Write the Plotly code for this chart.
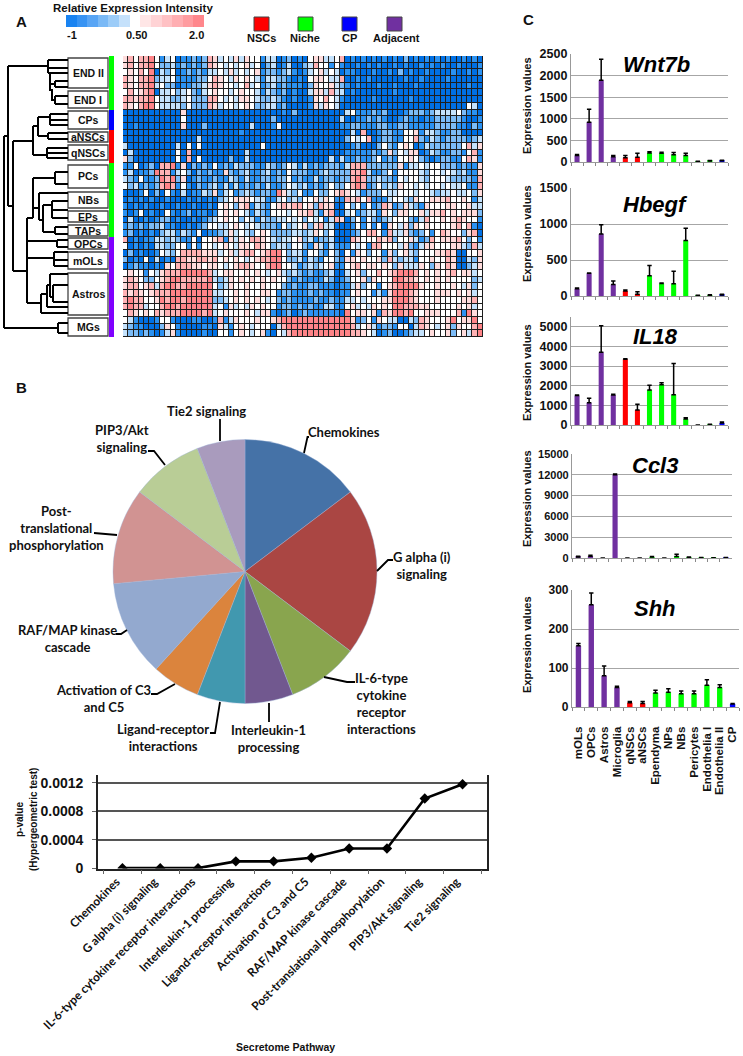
import plotly.graph_objects as go

W, H = 743, 1056
ARIAL = "Liberation Sans, Arial, sans-serif"
CAL = "Lato, Carlito, sans-serif"

# ---------- Panel A data ----------
heat_rows = [
"5646674134 0112126534 3535441330 1201045533 4601010101 0102010101 01001010",
"5646674223 1212126543 4345340230 1300236441 4100101010 0101001010 10010001",
"4546470324 0121213343 5343451221 2310134534 3011000100 1020100100 00100101",
"6546672334 1111224654 3545431332 2101045543 3600101000 0001001000 01000000",
"6546673422 0112235654 4346341231 2111025445 3210100010 0100010000 00000100",
"4645670334 2342134544 3454431321 2010035536 3301000000 0100000000 00000000",
"6656674332 2342226643 4355432232 1010015464 3100000100 0000100000 00000000",
"6546774333 3242226534 4345422331 2000015354 3000000000 0000000000 00000430",
"0000000000 0500000000 0000000000 1020000000 0034111212 0001222123 33342110",
"0000000000 0400000000 0000000020 0000000000 0300112121 0012110112 22221001",
"0010000000 0500020000 0000300014 0000000000 0112211122 1122111112 22211021",
"0000000000 0000000000 0010000000 0000000000 0003060012 2114451332 11220000",
"0000000000 0000300000 0000000000 0000000000 0024346012 2114462132 12222123",
"3000000000 3040400000 0000004000 0000000000 0001200024 2145401322 22224635",
"0300000000 4060000000 0003000000 0000000000 0011111212 5243550132 11221461",
"5200000000 4060400000 2003000000 0000000003 0311211241 2144542101 22114651",
"1140120667 1502121412 1322211321 2431312122 2136662222 2251334344 22212115",
"1301127661 3420212115 2123112312 1422211232 2226673112 4144443244 34323115",
"3214112767 2501211211 3213112212 2412113122 1226762232 2143443244 43222216",
"4231212676 1410212313 1312121311 2432312124 2246761242 3254434344 34334116",
"0001402041 0301132513 4123212217 5324114224 5654312224 3344434432 33433425",
"0101010010 0010101023 4555433113 4232445354 1165646111 3443254455 56445413",
"1010100100 1001001045 4256132145 6566452655 0042414126 5125321544 45544533",
"1014010041 0120110145 4543132144 4345563156 0034123315 4255445355 64545552",
"0300101220 1001012345 4424313223 3434243413 6502414212 3444213644 54565441",
"1212122311 0010124433 4543432221 4234525633 0001414140 5435254544 44564610",
"1201010233 1321401123 5343245422 2233235424 0001246641 6335212414 65442560",
"6010113323 2114044561 5354665432 3345231223 0006544465 6244531264 55564241",
"4010103322 4414144345 4355465423 3244215313 1114341664 4435213554 44553263",
"0201001432 4666655534 5356645677 4233144214 2041542441 5245324445 56500445",
"2010403010 6655665645 4543456677 4223132144 2155454452 6323314454 46500325",
"0121101054 6665545543 4566544677 4431232345 1145645545 4253335425 46500235",
"4544143566 6777776345 5445454345 3232121123 0034524464 5677764545 45645534",
"5654224567 7666667323 5454545454 4212111132 0124452544 4776654545 45444423",
"5664563677 6677777423 5445445444 2121122111 0113524414 5677775445 44543524",
"6565456667 7777777334 4545445541 2211121211 0114544131 5777654445 55454534",
"6766445767 7677777223 4545454342 1211112112 1133434445 5777654445 44445564",
"6766344677 6777777341 5343545441 2212121133 1145343545 4776665544 44454534",
"4654546566 6777767345 4445435510 1201211111 1074554516 5776744555 44461754",
"4310001441 0001100161 3544454456 7777777777 7775124154 3300326544 45745574",
"3211000254 1000011053 1454344403 6777777777 7776345312 2144036543 45254467",
"3221210135 1000010044 1454345104 3677777777 7776654301 2001233454 45245367",
]
heat_levels = ["#0070e4", "#2b92f2", "#7cbcf7", "#c4e2fc", "#ffffff", "#ffdcdc", "#ffb2b4", "#ff8488"]
scale_values = [-1, -0.75, -0.5, -0.25, 0, 0.25, 0.5, 0.75, 1, 1.25, 1.5, 1.75, 2]
scale_colors = ["#0a7cf0", "#2a8cf2", "#4c9ff4", "#72b4f6", "#96c8f8", "#c0dffb", "#ffffff",
                "#ffe4e4", "#ffd0d2", "#ffbcc0", "#ffa8ac", "#ff9498", "#ff7c82"]
cluster_names = ["END II", "END I", "CPs", "aNSCs", "qNSCs", "PCs", "NBs", "EPs", "TAPs", "OPCs", "mOLs", "Astros", "MGs"]

# ---------- Panel B data ----------
pathways = ["Chemokines", "G alpha (i) signaling", "IL-6-type cytokine receptor interactions",
            "Interleukin-1 processing", "Ligand-receptor interactions", "Activation of C3 and C5",
            "RAF/MAP kinase cascade", "Post-translational phosphorylation", "PIP3/Akt signaling", "Tie2 signaling"]
pathway_counts = [5, 7, 3, 2, 2, 2, 4, 4, 3, 2]
pie_colors = ["#4572A7", "#AA4643", "#89A54E", "#71588F", "#4198AF", "#DB843D", "#93A9CF", "#D19392", "#B9CD96", "#A99BBD"]
p_values = [0.000005, 0.000005, 0.000005, 0.0001, 0.0001, 0.00015, 0.00028, 0.00028, 0.00098, 0.00118]

# ---------- Panel C data ----------
cell_types = ["mOLs", "OPCs", "Astros", "Microglia", "qNSCs", "aNSCs", "Ependyma", "NPs", "NBs", "Pericytes",
              "Endothelia I", "Endothelia II", "CP"]
P, R, G, B = "#7030A0", "#FF0000", "#00FF00", "#0000FF"
cell_colors = [P, P, P, P, R, R, G, G, G, G, G, G, B]
wnt7b = [150, 920, 1890, 120, 100, 110, 210, 205, 170, 150, 10, 25, 30]
wnt7b_err = [25, 300, 490, 30, 50, 90, 25, 20, 50, 50, 5, 10, 10]
hbegf = [100, 315, 860, 160, 70, 25, 280, 175, 170, 770, 5, 10, 15]
hbegf_err = [10, 5, 130, 50, 15, 35, 145, 5, 175, 170, 5, 8, 8]
il18 = [1500, 1130, 3700, 1530, 3350, 760, 1780, 2050, 1540, 300, 0, 20, 100]
il18_err = [30, 230, 1350, 40, 30, 300, 240, 100, 1590, 70, 0, 20, 50]
ccl3 = [150, 250, 0, 12000, 0, 0, 130, 0, 200, 80, 40, 30, 50]
ccl3_err = [100, 150, 0, 100, 0, 0, 100, 0, 350, 60, 20, 20, 30]
shh = [157, 262, 80, 50, 11, 9, 36, 38, 34, 34, 56, 50, 8]
shh_err = [6, 30, 25, 3, 3, 5, 7, 9, 7, 7, 14, 7, 1]


def px(x):
    return x / W


def py(y):
    return 1 - y / H


def dom_x(a, b):
    return [px(a), px(b)]


def dom_y(top, bottom):
    return [py(bottom), py(top)]


fig = go.Figure()
annots = []
shapes = []


def text(t, x, y, size=11, family=ARIAL, angle=0, align="center", anchor="center", color="#111111"):
    annots.append(dict(text=t, x=px(x), y=py(y), xref="paper", yref="paper", showarrow=False,
                       xanchor=anchor, yanchor="middle", align=align, textangle=angle,
                       font=dict(size=size, family=family, color=color)))


def rect(x0, y0, x1, y1, fill, line=None, lw=0):
    shapes.append(dict(type="rect", xref="paper", yref="paper", x0=px(x0), x1=px(x1), y0=py(y0), y1=py(y1),
                       fillcolor=fill, line=dict(color=line or fill, width=lw)))


def polyline(points, width=2, color="#000000"):
    d = "M" + " L".join(f"{px(x):.5f},{py(y):.5f}" for x, y in points)
    shapes.append(dict(type="path", path=d, xref="paper", yref="paper", line=dict(color=color, width=width)))


# --- heatmap ---
matrix = [[int(c) for c in row.replace(" ", "")] for row in heat_rows]
stops = []
n = len(heat_levels)
for i, c in enumerate(heat_levels):
    stops.append([i / n, c])
    stops.append([(i + 1) / n, c])
shapes.append(dict(type="rect", xref="paper", yref="paper", layer="below", x0=px(123), x1=px(483), y0=py(337), y1=py(56),
                   fillcolor="#1e1e1e", line=dict(width=0)))
fig.add_trace(go.Heatmap(z=matrix, zmin=0, zmax=n, colorscale=stops, showscale=False, xgap=1, ygap=1,
                         hoverinfo="skip", xaxis="x", yaxis="y"))
fig.add_trace(go.Heatmap(z=[list(range(len(scale_values)))], x=scale_values, y=[0], zmin=-0.5, zmax=12.5,
                         colorscale=[[i / 12, c] for i, c in enumerate(scale_colors)], showscale=False,
                         hoverinfo="skip", xaxis="x2", yaxis="y2"))

# --- pie ---
fig.add_trace(go.Pie(labels=pathways, values=pathway_counts, sort=False, direction="clockwise", rotation=0,
                     marker=dict(colors=pie_colors, line=dict(color="#9db4d8", width=0.4)),
                     textinfo="none", hoverinfo="label+value", showlegend=False,
                     domain=dict(x=dom_x(113, 377), y=dom_y(439, 704))))

# --- line ---
fig.add_trace(go.Scatter(x=pathways, y=p_values, mode="lines+markers", xaxis="x3", yaxis="y3", showlegend=False,
                         line=dict(color="#000000", width=2.6),
                         marker=dict(symbol="diamond", size=8, color="#000000")))

# --- bars ---
panels = [
    ("Wnt7b", wnt7b, wnt7b_err, 54, 162, 571, 728, 2500, 500, 656, 65, 106, 12.5),
    ("Hbegf", hbegf, hbegf_err, 188, 296, 571, 728, 1500, 500, 655, 205, 234, 12.5),
    ("IL18", il18, il18_err, 317, 425, 571, 728, 5500, 1000, 655, 337, 373, 12.5),
    ("Ccl3", ccl3, ccl3_err, 454, 558, 572, 732, 15000, 3000, 655, 465, 499, 11),
    ("Shh", shh, shh_err, 590, 707, 572, 739, 300, 100, 655, 608, 645, 12),
]
layout_axes = {}
for i, (name, vals, errs, top, bottom, left, right, ymax, dtick, tx, ty, ly, tsize) in enumerate(panels):
    ax = 4 + i
    fig.add_trace(go.Bar(x=cell_types, y=vals, marker=dict(color=cell_colors, line=dict(width=0)),
                         error_y=dict(type="data", symmetric=False, array=errs, arrayminus=[0] * len(errs),
                                      color="#000000", thickness=1.5, width=2.2),
                         xaxis=f"x{ax}", yaxis=f"y{ax}", showlegend=False, name=name))
    last = i == len(panels) - 1
    layout_axes[f"xaxis{ax}"] = dict(domain=dom_x(left, right), anchor=f"y{ax}", type="category",
                                     categoryorder="array", categoryarray=cell_types, dtick=1,
                                     tickson="boundaries", ticks="outside", ticklen=3, tickcolor="#888888",
                                     showline=True, linecolor="#999999", linewidth=1.2, showgrid=False,
                                     showticklabels=last, tickangle=-90, ticklabelstandoff=14,
                                     tickfont=dict(family=ARIAL, size=11.5, color="#111111"),
                                     tickprefix="<b>", ticksuffix="</b>")
    layout_axes[f"yaxis{ax}"] = dict(domain=dom_y(top, bottom), anchor=f"x{ax}", range=[0, ymax], dtick=dtick,
                                     showline=True, linecolor="#999999", linewidth=1.2, tickformat="d",
                                     showgrid=True, gridcolor="#a6a6a6", gridwidth=1.1, zeroline=False,
                                     ticks="", tickfont=dict(family=ARIAL, size=tsize, color="#111111"),
                                     tickprefix="<b>", ticksuffix="</b>")
    text(f"<b><i>{name}</i></b>", tx, ty, size=22, color="#000000")
    text("<b>Expression values</b>", 527, ly, size=11, angle=-90)

# --- panel A decoration ---
text("<b>A</b>", 21, 21, size=15)
text("<b>B</b>", 21, 387, size=15)
text("<b>C</b>", 528, 20, size=15)
text("<b>Relative Expression Intensity</b>", 133, 8, size=11.5)
text("<b>-1</b>", 72, 35, size=11)
text("<b>0.50</b>", 136, 35, size=11)
text("<b>2.0</b>", 196, 35, size=11)
for label, x0, color, tx in [("NSCs", 254, R, 261), ("Niche", 298, G, 305), ("CP", 342, B, 349), ("Adjacent", 387, P, 396)]:
    rect(x0, 17, x0 + 15, 31, color, "#444444", 1)
    text(f"<b>{label}</b>", tx, 38, size=11)

boxes = [(58, 88), (91, 108), (111, 129), (132, 142), (145, 160), (165, 188), (192, 208), (211, 222), (225, 236),
         (238, 249), (252, 269), (273, 315), (318, 336)]
for name, (y0, y1) in zip(cluster_names, boxes):
    rect(68, y0, 108, y1, "#ffffff", "#444444", 1.3)
    text(f"<b>{name}</b>", 88, (y0 + y1) / 2, size=10.5)
for y0, y1, c in [(56, 110, G), (110, 130, B), (130, 163, R), (163, 237, G), (237, 337, "#7F00FF")]:
    rect(109, y0, 114, y1, c)

dendrogram = [
    [(48, 60), (68, 60)], [(48, 68), (68, 68)], [(48, 73), (68, 73)], [(48, 60), (48, 73)], [(8, 66), (48, 66)],
    [(50, 73), (50, 90), (52, 90), (52, 100), (55, 100)], [(50, 84), (55, 84)], [(55, 81), (55, 87)],
    [(55, 81), (68, 81)], [(55, 87), (68, 87)], [(55, 96), (55, 104)], [(55, 96), (68, 96)], [(55, 104), (68, 104)],
    [(50, 114), (50, 125)], [(50, 114), (68, 114)], [(50, 120), (68, 120)], [(50, 125), (68, 125)], [(38, 117), (50, 117)],
    [(38, 117), (38, 136)], [(38, 136), (48, 136)], [(48, 133), (48, 139)], [(48, 133), (68, 133)], [(48, 139), (68, 139)],
    [(33, 126), (38, 126)], [(33, 126), (33, 155)], [(33, 155), (47, 155)], [(47, 148), (47, 158)],
    [(47, 148), (68, 148)], [(47, 153), (68, 153)], [(47, 158), (68, 158)],
    [(13, 141), (33, 141)], [(13, 141), (13, 271)], [(8, 66), (8, 206)], [(8, 206), (13, 206)],
    [(4, 136), (4, 328)], [(4, 136), (8, 136)], [(4, 328), (58, 328)], [(58, 323), (58, 333)],
    [(58, 323), (68, 323)], [(58, 333), (68, 333)],
    [(13, 271), (27, 271)], [(27, 218), (27, 303)], [(27, 218), (33, 218)], [(33, 178), (33, 218)],
    [(33, 178), (55, 178)], [(55, 172), (55, 184)], [(55, 172), (68, 172)], [(55, 184), (68, 184)],
    [(33, 208), (39, 208)], [(39, 193), (39, 220)], [(39, 193), (68, 193)], [(39, 220), (43, 220)], [(43, 205), (43, 232)],
    [(43, 205), (52, 205)], [(52, 201), (52, 218)], [(52, 201), (68, 201)], [(52, 210), (68, 210)], [(52, 218), (68, 218)],
    [(43, 232), (55, 232)], [(55, 227), (55, 234)], [(55, 227), (68, 227)], [(55, 234), (68, 234)],
    [(27, 241), (57, 241)], [(57, 240), (57, 247)], [(57, 240), (68, 240)], [(57, 247), (68, 247)],
    [(27, 258), (54, 258)], [(54, 252), (54, 266)], [(54, 252), (68, 252)], [(54, 260), (68, 260)], [(54, 266), (68, 266)],
    [(27, 303), (41, 303)], [(41, 294), (41, 313)], [(41, 313), (68, 313)], [(41, 294), (47, 294)],
    [(47, 285), (47, 307)], [(47, 307), (68, 307)], [(47, 285), (50, 285)], [(50, 274), (50, 297)], [(50, 274), (68, 274)],
    [(50, 297), (53, 297)], [(53, 285), (53, 302)], [(53, 285), (68, 285)], [(53, 302), (68, 302)],
]
for seg in dendrogram:
    polyline(seg, width=2)

# --- pie labels ---
pie_labels = [
    ("Chemokines", 344, 432), ("G alpha (i)<br>signaling", 422, 565),
    ("IL-6-type<br>cytokine<br>receptor<br>interactions", 382, 703), ("Interleukin-1<br>processing", 268, 738),
    ("Ligand-receptor<br>interactions", 163, 737), ("Activation of C3<br>and C5", 104, 698),
    ("RAF/MAP kinase<br>cascade", 67, 638), ("Post-<br>translational<br>phosphorylation", 56, 528),
    ("PIP3/Akt<br>signaling", 122, 438), ("Tie2 signaling", 206, 411),
]
for t, x, y in pie_labels:
    lines = t.split("<br>")
    text("<br>".join(f"<b>{l}</b>" for l in lines), x, y, size=13, family=CAL)
leaders = [
    [(304, 453), (307.5, 437), (309, 437)], [(377, 571), (388, 560), (393, 560)], [(324, 677), (347, 682), (355, 682)],
    [(269, 703), (269, 722)], [(220, 702), (215, 733), (210, 733)], [(175, 684), (157, 694), (151, 694)],
    [(127, 630), (121, 634), (116, 634)], [(117, 535), (94, 533)], [(165, 465), (154, 451), (148, 451)],
    [(220, 441), (220, 419)],
]
for seg in leaders:
    polyline(seg, width=1.8)

text("<b>p-value</b>", 19, 820, size=10, angle=-90)
text("<b>(Hypergeometric test)</b>", 33, 820, size=10, angle=-90)
text("<b>Secretome Pathway</b>", 285, 1047, size=10.5)

fig.update_layout(
    width=W, height=H, margin=dict(l=0, r=0, t=0, b=0, autoexpand=False), paper_bgcolor="#ffffff", plot_bgcolor="#ffffff",
    showlegend=False, bargap=0.58, annotations=annots, shapes=shapes,
    xaxis=dict(domain=dom_x(123, 483), range=[-0.5, 67.5], visible=False),
    yaxis=dict(domain=dom_y(56, 337), range=[41.5, -0.5], visible=False),
    xaxis2=dict(domain=dom_x(66, 204), visible=False, range=[-1.125, 2.125]),
    yaxis2=dict(domain=dom_y(15, 27), visible=False),
    xaxis3=dict(domain=dom_x(98, 487), anchor="y3", type="category", tickson="boundaries", ticks="outside", ticklen=4,
                tickcolor="#666666", showline=True, linecolor="#222222", linewidth=1.6, showgrid=False, tickangle=-45,
                tickfont=dict(family=CAL, size=11.8, color="#111111"), dtick=1, ticklabelshift=-6,
                tickprefix="<b>", ticksuffix="</b>"),
    yaxis3=dict(domain=dom_y(775, 868.5), anchor="x3", range=[0, 0.00131], tickvals=[0, 0.0004, 0.0008, 0.0012],
                ticktext=["<b>0</b>", "<b>0.0004</b>", "<b>0.0008</b>", "<b>0.0012</b>"],
                showline=True, linecolor="#222222", linewidth=1.6, mirror=True, showgrid=True, gridcolor="#555555",
                gridwidth=1.5, zeroline=False, ticks="outside", ticklen=4, tickcolor="#666666", ticklabelstandoff=6,
                tickfont=dict(family=ARIAL, size=14, color="#111111")),
    **layout_axes,
)

fig.write_html("out.html", config={"displayModeBar": False},
               post_script="document.body.style.margin='0';document.documentElement.style.overflow='hidden';")
